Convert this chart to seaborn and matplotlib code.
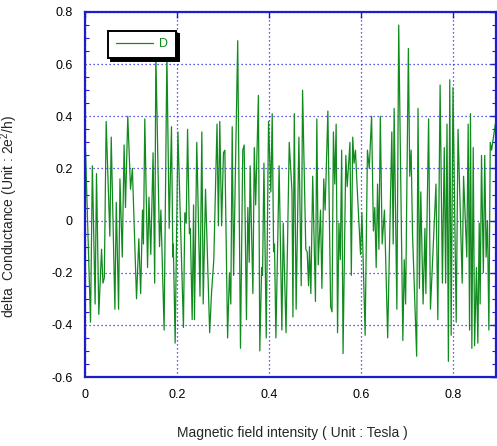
import numpy as np
import pandas as pd
import matplotlib
matplotlib.use("Agg")
import matplotlib.pyplot as plt
from matplotlib.ticker import MultipleLocator
import seaborn as sns

# Magnetic field (Tesla) and conductance fluctuation (2e^2/h), trace "D"
field = [
    0.000, 0.012, 0.016, 0.022, 0.025, 0.030, 0.036, 0.039, 0.042, 0.046,
    0.054, 0.057, 0.065, 0.068, 0.073, 0.076, 0.081, 0.085, 0.088, 0.093,
    0.099, 0.103, 0.112, 0.117, 0.121, 0.125, 0.127, 0.130, 0.136, 0.139,
    0.143, 0.148, 0.1515, 0.154, 0.162, 0.165, 0.172, 0.178, 0.183, 0.188,
    0.191, 0.192, 0.196, 0.202, 0.214, 0.217, 0.220, 0.223, 0.227, 0.229,
    0.233, 0.236, 0.238, 0.243, 0.250, 0.254, 0.257, 0.262, 0.271, 0.275,
    0.280, 0.287, 0.290, 0.293, 0.297, 0.301, 0.304, 0.310, 0.314, 0.317,
    0.320, 0.323, 0.332, 0.338, 0.343, 0.346, 0.351, 0.354, 0.357, 0.359,
    0.365, 0.368, 0.371, 0.377, 0.380, 0.384, 0.386, 0.389, 0.394, 0.399,
    0.404, 0.407, 0.410, 0.412, 0.415, 0.422, 0.428, 0.431, 0.437, 0.444,
    0.450, 0.452, 0.455, 0.459, 0.465, 0.470, 0.473, 0.480, 0.483, 0.486,
    0.488, 0.491, 0.495, 0.501, 0.504, 0.507, 0.512, 0.515, 0.519, 0.522,
    0.528, 0.534, 0.537, 0.540, 0.543, 0.546, 0.549, 0.552, 0.555, 0.558,
    0.561, 0.567, 0.570, 0.576, 0.579, 0.582, 0.585, 0.588, 0.591, 0.599,
    0.602, 0.609, 0.614, 0.618, 0.623, 0.627, 0.630, 0.633, 0.636, 0.639,
    0.642, 0.646, 0.651, 0.658, 0.667, 0.670, 0.672, 0.678, 0.682, 0.691,
    0.694, 0.697, 0.703, 0.706, 0.709, 0.712, 0.721, 0.724, 0.727, 0.730,
    0.735, 0.739, 0.741, 0.747, 0.751, 0.763, 0.767, 0.772, 0.777, 0.781,
    0.784, 0.787, 0.790, 0.793, 0.796, 0.800, 0.807, 0.811, 0.820, 0.823,
    0.830, 0.833, 0.836, 0.838, 0.841, 0.844, 0.847, 0.851, 0.854, 0.857,
    0.859, 0.862, 0.866, 0.869, 0.872, 0.875, 0.878, 0.881, 0.884, 0.892,
    0.895,
]
conductance = [
    0.34, -0.39, 0.21, -0.32, 0.18, -0.36, -0.11, -0.24, -0.22, 0.38,
    -0.06, 0.32, -0.34, 0.07, -0.34, 0.16, -0.14, 0.29, 0.05, 0.40,
    0.12, 0.20, -0.30, -0.07, -0.28, 0.04, -0.09, 0.39, -0.18, 0.09,
    -0.13, 0.26, -0.24, 0.64, -0.10, 0.04, -0.42, 0.64, -0.03, 0.36,
    -0.14, -0.09, -0.47, 0.34, -0.41, 0.03, -0.01, 0.35, -0.05, -0.03,
    -0.38, 0.06, -0.38, 0.30, -0.29, 0.34, -0.32, 0.12, -0.43, -0.28,
    -0.15, 0.37, -0.02, 0.38, -0.02, 0.26, 0.27, -0.45, -0.20, -0.32,
    0.36, -0.21, 0.69, -0.49, 0.27, 0.29, -0.38, 0.05, -0.16, 0.21,
    -0.28, 0.28, 0.06, 0.48, -0.50, -0.18, -0.21, 0.22, -0.45, 0.38,
    0.11, 0.41, -0.12, -0.09, -0.45, 0.21, -0.42, -0.01, -0.43, 0.30,
    0.11, -0.37, 0.41, -0.34, 0.32, -0.25, 0.50, -0.11, -0.12, -0.25,
    -0.10, -0.28, 0.17, -0.31, 0.39, -0.17, 0.04, -0.26, 0.16, 0.04,
    0.42, -0.33, -0.35, 0.34, 0.14, 0.37, -0.43, -0.01, -0.15, 0.27,
    -0.51, 0.25, 0.13, 0.30, -0.21, 0.32, 0.22, 0.27, 0.15, -0.13,
    0.03, -0.44, 0.27, 0.20, 0.40, -0.04, 0.05, -0.18, 0.14, -0.11,
    0.40, -0.09, 0.04, -0.45, 0.34, -0.09, 0.43, -0.34, 0.75, -0.46,
    -0.15, -0.32, 0.66, 0.17, 0.27, -0.05, -0.52, 0.43, -0.26, 0.11,
    -0.32, -0.03, -0.28, 0.39, -0.34, 0.14, -0.38, 0.52, -0.24, 0.28,
    -0.24, 0.37, -0.54, 0.54, -0.44, 0.51, -0.39, 0.35, -0.24, 0.17,
    -0.14, 0.37, -0.42, 0.41, -0.49, 0.28, -0.48, -0.18, -0.47, -0.01,
    -0.32, 0.25, -0.20, 0.25, -0.14, 0.00, -0.42, 0.30, 0.27, 0.37,
    0.34,
]
series_name = "D"
x_ticks = [0, 0.2, 0.4, 0.6, 0.8]
x_tick_labels = ["0", "0.2", "0.4", "0.6", "0.8"]
y_ticks = [-0.6, -0.4, -0.2, 0, 0.2, 0.4, 0.6, 0.8]
y_tick_labels = ["-0.6", "-0.4", "-0.2", "0", "0.2", "0.4", "0.6", "0.8"]

df = pd.DataFrame({"field": field, "conductance": conductance, "trace": series_name})

sns.set_style("white")
plt.rcParams["font.family"] = ["Liberation Sans", "DejaVu Sans"]
plt.rcParams["mathtext.fontset"] = "custom"
plt.rcParams["mathtext.rm"] = "Liberation Sans"
plt.rcParams["mathtext.it"] = "Liberation Sans"

axis_blue = "#1c1cc8"
grid_blue = "#2a2ae0"
line_green = "#118a1e"

fig = plt.figure(figsize=(4.97, 4.46), dpi=100)
ax = fig.add_axes([85 / 497, 69 / 446, 411 / 497, 365 / 446])

sns.lineplot(data=df, x="field", y="conductance", hue="trace",
             palette=[line_green], sort=False, estimator=None,
             linewidth=0.9, ax=ax)

ax.set_xlim(0, 0.8935)
ax.set_ylim(-0.6, 0.8)
ax.set_xticks(x_ticks)
ax.set_xticklabels(x_tick_labels)
ax.set_yticks(y_ticks)
ax.set_yticklabels(y_tick_labels)
ax.yaxis.set_minor_locator(MultipleLocator(0.05))

ax.grid(True, which="major", color=grid_blue, linestyle=(0, (1, 2.2)), linewidth=0.9)
ax.set_axisbelow(True)

for side in ["left", "right", "top", "bottom"]:
    ax.spines[side].set_visible(True)
    ax.spines[side].set_color(axis_blue)
    ax.spines[side].set_linewidth(1.6)

ax.tick_params(axis="both", which="major", direction="in", length=4, width=1,
               color=axis_blue, labelsize=9, labelcolor="black",
               top=True, right=True)
ax.tick_params(axis="x", which="major", pad=9)
ax.tick_params(axis="y", which="major", pad=9)
ax.tick_params(axis="y", which="minor", direction="in", length=3, width=0.8,
               color=axis_blue, left=True, right=True)

ax.set_xlabel("Magnetic field intensity ( Unit : Tesla )", fontsize=10)
ax.xaxis.set_label_coords(0.505, -0.133)
ax.set_ylabel("delta  Conductance (Unit : 2e$^2$/h)", fontsize=10)
ax.yaxis.set_label_coords(-0.157, 0.44)

leg = ax.legend(loc="upper left", bbox_to_anchor=(0.056, 0.948), fontsize=9,
                frameon=True, fancybox=False, handlelength=3.0,
                handletextpad=0.5, borderpad=0.6, borderaxespad=0,
                labelcolor="linecolor",
                shadow={"color": "black", "alpha": 1.0})
leg.get_frame().set_edgecolor("black")
leg.get_frame().set_linewidth(1.4)
leg.get_frame().set_facecolor("white")
leg.get_frame().set_alpha(1.0)
for h in leg.get_lines():
    h.set_linewidth(0.9)

fig.savefig("out.png", dpi=100)
